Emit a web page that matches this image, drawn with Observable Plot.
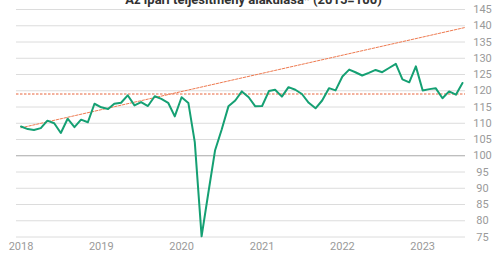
<!DOCTYPE html>
<html>
<head>
<meta charset="utf-8">
<script src="https://cdn.jsdelivr.net/npm/d3@7"></script>
<script src="https://cdn.jsdelivr.net/npm/@observablehq/plot@0.6"></script>
<style>
  html, body { margin: 0; padding: 0; background: #fff; }
  #wrap { position: relative; width: 500px; height: 261px; overflow: hidden; }
  #title { position: absolute; left: 0; width: 507px; top: -7.5px; text-align: center;
    font: bold 13px/13px Roboto, sans-serif; color: #333; }
  #chart { position: absolute; left: 0; top: 0; }
</style>
</head>
<body>
<div id="wrap">
  <div id="chart"></div>
  <div id="title">Az ipari teljesítmény alakulása* (2015=100)</div>
</div>
<script>
// Monthly industrial output index, Jan 2018 – Jul 2023
const startMonth = "2018-01-01";
const values = [
  109.0, 108.2, 107.9, 108.5, 110.8, 110.0, 107.0, 111.4, 108.8, 111.1, 110.3, 116.0,
  114.9, 114.4, 116.0, 116.3, 118.6, 115.5, 116.5, 115.3, 118.3, 117.5, 116.3, 112.1,
  118.0, 116.2, 104.2, 75.2, 88.3, 101.6, 108.0, 115.2, 117.0, 119.8, 118.0, 115.2,
  115.3, 119.9, 120.3, 118.2, 121.1, 120.3, 119.0, 116.3, 114.6, 117.0, 120.8, 120.1,
  124.4, 126.5, 125.7, 124.7, 125.5, 126.4, 125.7, 127.0, 128.3, 123.5, 122.6, 127.5,
  120.1, 120.5, 120.8, 117.7, 119.8, 118.8, 122.4
];
const trendDates = ["2018-01-01", "2023-07-15"];
const trendValues = [108.6, 139.5];
const levelValue = 119;
const yTicks = [75, 80, 85, 90, 95, 100, 105, 110, 115, 120, 125, 130, 135, 140, 145];
const xTickYears = ["2018", "2019", "2020", "2021", "2022", "2023"];

const start = new Date(startMonth);
const series = values.map((v, i) => ({date: d3.utcMonth.offset(start, i), value: v}));
const trend = trendDates.map((d, i) => ({date: new Date(d), value: trendValues[i]}));
const xTicks = xTickYears.map(y => new Date(y + "-01-01"));

const plot = Plot.plot({
  width: 500,
  height: 261,
  marginTop: 9,
  marginBottom: 24.5,
  marginLeft: 16,
  marginRight: 35,
  insetLeft: 4.5,
  insetRight: 3,
  style: {fontFamily: "Roboto, sans-serif", fontSize: "11px", color: "#999", background: "#fff"},
  x: {type: "utc", domain: [start, series[series.length - 1].date], label: null},
  y: {domain: [75, 145], label: null},
  marks: [
    Plot.ruleY(yTicks.filter(t => t !== 100), {stroke: "#dcdcdc", strokeWidth: 1}),
    Plot.ruleY([100], {stroke: "#a8a8a8", strokeWidth: 1.2}),
    Plot.axisY(yTicks, {anchor: "right", tickSize: 0, tickPadding: 3, dx: 14, textAnchor: "middle", fill: "#9a9a9a"}),
    Plot.axisX(xTicks, {anchor: "bottom", tickSize: 0, tickPadding: 5, tickFormat: d3.utcFormat("%Y"), fill: "#9a9a9a"}),
    Plot.ruleY([levelValue], {stroke: "#e8643c", strokeWidth: 1, strokeDasharray: "2.5,1.5"}),
    Plot.line(trend, {x: "date", y: "value", stroke: "#ee7a50", strokeWidth: 1, strokeDasharray: "2.5,1.5", clip: false}),
    Plot.line(series, {x: "date", y: "value", stroke: "#15a073", strokeWidth: 2, strokeLinejoin: "round"})
  ]
});
document.getElementById("chart").appendChild(plot);
</script>
</body>
</html>
